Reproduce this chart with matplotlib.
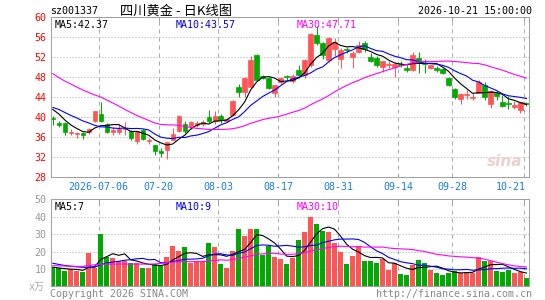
import matplotlib
matplotlib.use('Agg')
import matplotlib.pyplot as plt
import numpy as np
import pandas as pd

plt.rcParams['font.family'] = ['DejaVu Sans Mono', 'Noto Sans CJK SC']

# daily candles, 80 trading days
opens = [39.7, 38.7, 38.7, 36.8, 36.5, 36.7, 36.9, 39.1, 40.6, 38.5,
         36.9, 36.9, 37.6, 37.1, 35.1, 37.3, 35.2, 34.3, 33.1, 33.3,
         35.4, 37.2, 38.6, 38.1, 38.3, 38.5, 39.9, 39.1, 40.1, 39.2,
         40.4, 46.1, 45.1, 46.1, 52.4, 48.3, 47.9, 44.9, 47.1, 48.3,
         47.2, 49.4, 48.5, 50.5, 56.5, 54.9, 51.5, 53.6, 51.7, 53.6,
         52.0, 53.1, 54.9, 52.1, 51.9, 50.1, 50.4, 50.1, 50.6, 49.9,
         49.4, 51.9, 50.8, 49.9, 49.9, 49.6, 47.9, 45.6, 43.5, 44.5,
         43.8, 44.9, 46.4, 42.6, 44.8, 43.0, 42.8, 41.9, 41.4, 42.8]
highs = [40.1, 39.2, 38.9, 37.6, 37.0, 37.0, 37.8, 41.2, 43.0, 38.7,
         38.0, 38.6, 39.0, 37.4, 37.2, 37.5, 35.8, 34.4, 33.7, 35.0,
         37.7, 40.3, 39.2, 39.2, 39.1, 39.3, 41.4, 41.2, 40.6, 39.8,
         43.3, 46.7, 48.0, 52.3, 52.6, 48.5, 48.0, 46.5, 48.0, 48.4,
         48.6, 50.5, 51.6, 56.8, 58.2, 55.1, 56.0, 55.9, 53.8, 54.1,
         53.3, 55.3, 55.2, 52.8, 52.2, 51.3, 51.2, 51.0, 51.2, 50.4,
         53.0, 53.1, 51.6, 50.5, 50.3, 49.8, 48.0, 45.8, 44.8, 45.4,
         44.8, 47.5, 47.0, 45.5, 45.3, 44.5, 44.3, 43.1, 43.0, 43.0]
lows = [38.4, 38.0, 36.4, 36.4, 35.7, 35.5, 36.6, 38.9, 38.9, 36.7,
        36.3, 36.5, 36.4, 35.4, 34.5, 35.4, 34.6, 32.4, 32.0, 31.6,
        35.3, 37.0, 36.8, 37.5, 37.9, 38.1, 38.7, 38.6, 38.7, 38.9,
        40.2, 43.9, 43.9, 46.0, 47.3, 47.6, 45.6, 43.9, 46.6, 47.4,
        46.9, 47.9, 47.9, 50.0, 54.4, 51.7, 51.0, 52.2, 49.9, 52.8,
        49.9, 52.8, 53.0, 51.0, 50.1, 49.0, 49.9, 48.1, 50.0, 49.0,
        49.2, 48.9, 48.9, 49.7, 49.1, 48.6, 46.3, 43.5, 42.5, 43.6,
        43.3, 44.8, 43.4, 41.7, 43.3, 41.9, 41.5, 41.5, 40.7, 42.2]
closes = [39.5, 38.3, 36.9, 36.9, 36.8, 36.4, 37.6, 41.2, 39.2, 37.0,
          37.3, 37.6, 37.8, 35.7, 37.1, 35.6, 35.4, 33.1, 32.8, 34.9,
          36.6, 40.2, 37.1, 39.0, 38.7, 38.9, 39.1, 40.1, 39.3, 39.5,
          43.2, 45.1, 47.9, 51.4, 47.5, 47.9, 45.8, 46.4, 47.9, 48.1,
          48.3, 48.5, 51.4, 56.6, 54.9, 52.5, 55.9, 55.1, 53.4, 53.4,
          52.9, 54.5, 53.6, 51.3, 50.4, 51.2, 50.6, 50.6, 50.4, 49.4,
          52.5, 50.8, 50.6, 50.4, 49.4, 48.9, 46.5, 43.9, 44.6, 44.7,
          44.0, 47.1, 43.9, 45.2, 44.3, 42.2, 42.6, 42.3, 42.9, 42.5]
volumes = [11.0, 10.4, 8.8, 9.8, 8.8, 8.2, 19.2, 10.8, 30.3, 17.1,
           16.3, 14.8, 14.8, 13.3, 13.6, 10.8, 10.8, 12.9, 11.7, 17.0,
           23.2, 20.5, 22.4, 13.6, 14.8, 14.8, 25.1, 22.8, 13.1, 10.6,
           20.4, 33.0, 29.0, 33.0, 33.0, 18.0, 23.2, 17.1, 15.7, 12.9,
           16.5, 26.7, 31.3, 40.1, 35.9, 31.8, 31.3, 25.1, 20.0, 12.9,
           17.5, 23.2, 14.6, 14.6, 13.4, 15.9, 9.4, 13.3, 7.1, 6.5,
           12.3, 15.2, 13.4, 9.4, 7.9, 6.5, 7.9, 9.0, 7.5, 8.5,
           7.5, 17.1, 14.8, 14.4, 8.8, 8.5, 9.5, 7.5, 8.0, 4.8]

# moving-average values before enough days are in the window
ma5_head = [41.5, 40.6, 39.4, 38.4]
ma10_head = [41.9, 41.5, 40.9, 40.3, 39.8, 39.2, 38.8, 38.3, 38.0]
ma30_head = [48.7, 47.9, 47.2, 46.6, 46.0, 45.4, 44.9, 44.4, 44.0, 43.4,
             42.8, 42.2, 41.5, 40.9, 40.3, 39.8, 39.3, 38.8, 38.5, 38.4,
             38.4, 38.3, 38.1, 37.9, 37.7, 37.6, 37.5, 37.5, 37.5]
vol_ma5_head = [11.0, 10.6, 10.2, 9.9]
vol_ma10_head = [13.3, 12.6, 12.0, 11.6, 11.2, 11.0, 10.8, 11.0, 12.5]
vol_ma30_head = [11.9, 11.8, 11.7, 11.6, 11.5, 11.5, 12.0, 12.4, 12.7, 12.8,
                 12.8, 12.8, 12.8, 12.8, 12.8, 12.8, 12.8, 12.9, 13.2, 13.6,
                 13.9, 14.1, 14.2, 14.2, 14.2, 14.3, 14.6, 14.9, 15.2]

date_pos = [8, 18, 28, 38, 48, 58, 67, 79]
date_labels = ['2026-07-06', '07-20', '08-03', '08-17', '08-31',
               '09-14', '09-28', '10-21']
price_ticks = [28, 32, 36, 40, 44, 48, 52, 56, 60]
vol_ticks = [10, 20, 30, 40, 50]

UP = '#ff5555'
DOWN = '#00aa00'
GRID = '#aaaaaa'
BORDER = '#a0a0a0'
W, H = 545, 300


def moving(values, n, head):
    ma = pd.Series(values).rolling(n).mean().to_numpy()
    ma[:len(head)] = head
    return ma


def rect(l, t, r, b):
    return [l / W, 1 - b / H, (r - l) / W, (b - t) / H]


def style_axes(ax, ticks, tick_color):
    n = len(closes)
    ax.set_xlim(-0.35, n - 0.53)
    ax.set_yticks(ticks)
    ax.tick_params(axis='y', length=0, pad=3, labelsize=7.2, labelcolor=tick_color)
    ax.set_xticks([p - 0.37 for p in date_pos])
    ax.tick_params(axis='x', top=True, bottom=False, labelbottom=False,
                   direction='in', length=3, width=0.72, color=BORDER)
    for s in ax.spines.values():
        s.set_color(BORDER)
        s.set_linewidth(0.72)
    for t in ticks:
        ax.axhline(t, color=GRID, lw=0.72, ls=(0, (1, 2)), zorder=0)
    for p in date_pos:
        ax.axvline(p - 0.37, color=GRID, lw=0.72, ls=(0, (4, 4)), zorder=0)


fig = plt.figure(figsize=(W / 100, H / 100), dpi=100)
ax1 = fig.add_axes(rect(50.7, 17.3, 529.3, 176.7))
ax2 = fig.add_axes(rect(50.7, 199.3, 529.3, 286.4))

x = np.arange(len(closes))
colors = [UP if c >= o else DOWN for o, c in zip(opens, closes)]

# candles
ax1.vlines(x, lows, highs, colors=colors, lw=0.72, zorder=2)
body = [max(abs(c - o), 0.02) for o, c in zip(opens, closes)]
ax1.bar(x, body, bottom=np.minimum(opens, closes), width=0.73,
        color=colors, edgecolor=colors, lw=0.5, zorder=2)
ax1.plot(x, moving(closes, 5, ma5_head), color='black', lw=0.8, zorder=3)
ax1.plot(x, moving(closes, 10, ma10_head), color='#0000ff', lw=0.8, zorder=3)
ax1.plot(x, moving(closes, 30, ma30_head), color='#ff00ff', lw=0.8, zorder=3)
ax1.set_ylim(28, 60)
style_axes(ax1, price_ticks, '#ff0000')
ax1.text(0.985, 0.05, 'sina', transform=ax1.transAxes, ha='right', va='bottom',
         fontsize=11, style='italic', weight='bold', color='#ecd0d0', zorder=1,
         family='DejaVu Sans')

for p, lab in zip(date_pos, date_labels):
    ha = 'right' if p == date_pos[-1] else 'center'
    xx = p - 0.37 + (0.2 if ha == 'right' else 0)
    ax1.text(xx, -0.065, lab, transform=ax1.get_xaxis_transform(), ha=ha,
             va='center', fontsize=7.2, color='#1a7fd4')

# volume
ax2.bar(x, volumes, width=0.78, color=colors, lw=0, zorder=2)
ax2.plot(x, moving(volumes, 5, vol_ma5_head), color='black', lw=0.8, zorder=3)
ax2.plot(x, moving(volumes, 10, vol_ma10_head), color='#0000ff', lw=0.8, zorder=3)
ax2.plot(x, moving(volumes, 30, vol_ma30_head), color='#ff00ff', lw=0.8, zorder=3)
ax2.set_ylim(0, 50)
style_axes(ax2, vol_ticks, '#999999')

# header / legends / footer
fs = 7.2
fig.text(50 / W, 1 - 11 / H, 'sz001337', va='center', fontsize=fs)
fig.text(120 / W, 1 - 11 / H, '四川黄金 - 日K线图', va='center', fontsize=9.5,
         family=['Noto Sans CJK SC'])
fig.text(532 / W, 1 - 11 / H, '2026-10-21 15:00:00', va='center', ha='right', fontsize=fs)

fig.text(55 / W, 1 - 25 / H, 'MA5:42.37', va='center', fontsize=fs, color='black')
fig.text(175.5 / W, 1 - 25 / H, 'MA10:43.57', va='center', fontsize=fs, color='#0000ff')
fig.text(296.5 / W, 1 - 25 / H, 'MA30:47.71', va='center', fontsize=fs, color='#ff00ff')

fig.text(55 / W, 1 - 207 / H, 'MA5:7', va='center', fontsize=fs, color='black')
fig.text(175.5 / W, 1 - 207 / H, 'MA10:9', va='center', fontsize=fs, color='#0000ff')
fig.text(296.5 / W, 1 - 207 / H, 'MA30:10', va='center', fontsize=fs, color='#ff00ff')

fig.text(29 / W, 1 - 287 / H, 'x万', va='center', fontsize=fs, color='#aaaaaa')
fig.text(50 / W, 1 - 294 / H, 'Copyright 2026 SINA.COM', va='center', fontsize=fs,
         color='#888888')
fig.text(532 / W, 1 - 294 / H, 'http://finance.sina.com.cn', va='center', ha='right',
         fontsize=fs, color='#888888')

fig.savefig('out.png', dpi=100, facecolor='white')
